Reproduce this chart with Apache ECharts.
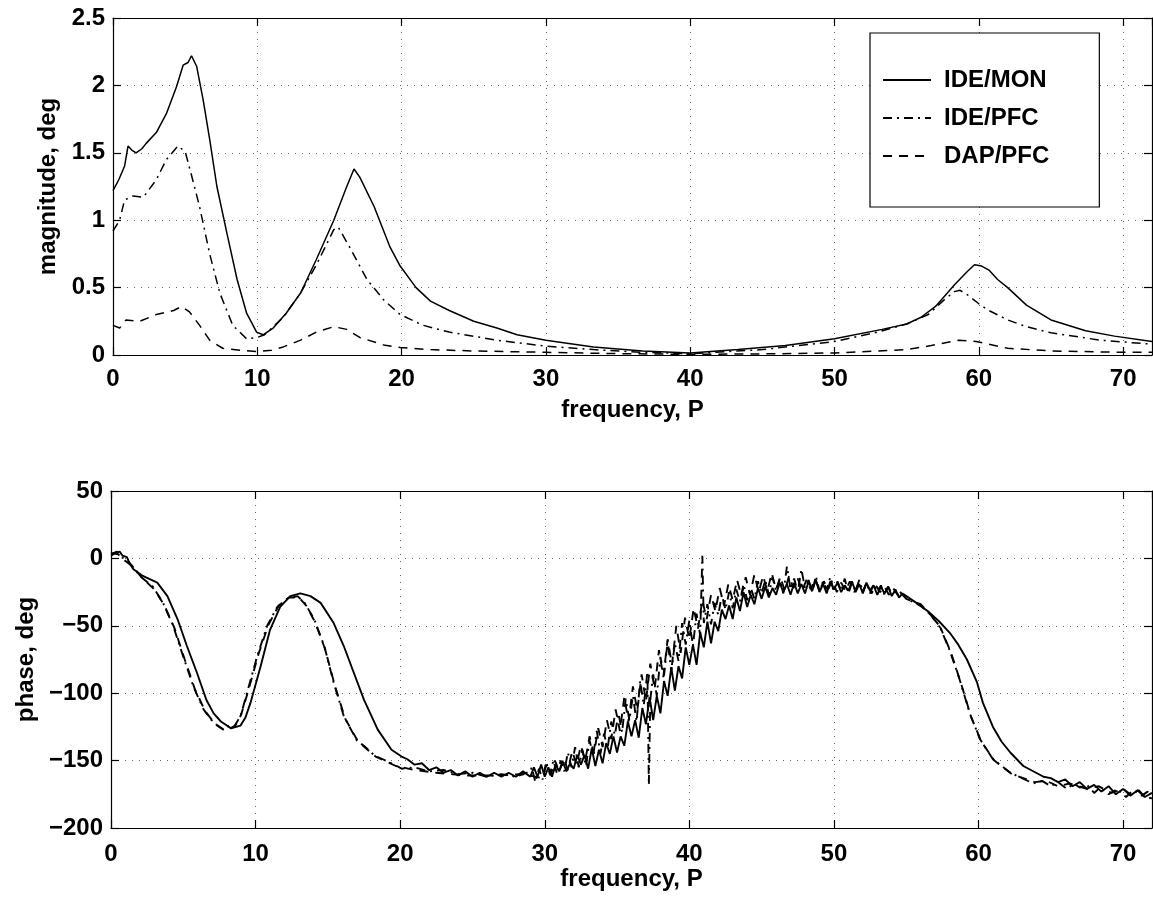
<!DOCTYPE html>
<html>
<head>
<meta charset="utf-8">
<script src="https://cdn.jsdelivr.net/npm/echarts@6/dist/echarts.min.js"></script>
<style>
html,body{margin:0;padding:0;background:#fff;}
#chart{width:1153px;height:903px;}
</style>
</head>
<body>
<div id="chart"></div>
<script>
// ---- data ----
const seriesNames = ['IDE/MON', 'IDE/PFC', 'DAP/PFC'];
const xTicks = [0, 10, 20, 30, 40, 50, 60, 70];
const magTicks = [0, 0.5, 1, 1.5, 2, 2.5];
const phaseTicks = [-200, -150, -100, -50, 0, 50];

// magnitude, deg  [frequency P, value]
const magIdeMon = [[0,1.22],[0.4,1.3],[0.8,1.4],[1.04,1.55],[1.3,1.52],[1.6,1.5],[2.0,1.53],[2.3,1.57],[3.0,1.65],[3.7,1.79],[4.4,1.99],[4.86,2.15],[5.2,2.17],[5.44,2.22],[5.8,2.14],[6.25,1.89],[6.7,1.60],[7.2,1.25],[7.9,0.90],[8.6,0.56],[9.26,0.31],[9.95,0.17],[10.4,0.15],[11.1,0.20],[12.0,0.31],[13.0,0.46],[14.1,0.71],[15.3,1.0],[16.2,1.25],[16.7,1.38],[17.1,1.32],[18.1,1.10],[19.2,0.80],[19.9,0.66],[21,0.5],[22,0.4],[23.3,0.33],[25,0.25],[26.6,0.2],[28,0.15],[30,0.11],[33.3,0.06],[36.7,0.03],[40,0.015],[43.3,0.04],[46.6,0.07],[50,0.12],[53.3,0.19],[55,0.23],[56,0.28],[57,0.36],[58.3,0.52],[59.2,0.62],[59.7,0.67],[60.2,0.66],[60.7,0.63],[61.3,0.56],[62,0.5],[63.3,0.37],[65,0.26],[67.4,0.18],[69.4,0.14],[72,0.1]];
const magIdePfc = [[0,0.92],[0.46,1.0],[0.8,1.15],[1.4,1.18],[2.1,1.17],[3.0,1.3],[3.7,1.45],[4.5,1.55],[5.0,1.51],[5.4,1.35],[6.0,1.10],[6.7,0.75],[7.4,0.46],[8.3,0.22],[9.26,0.12],[10,0.13],[10.5,0.15],[11.8,0.28],[13,0.46],[14.1,0.67],[15.3,0.93],[15.6,0.95],[16.4,0.80],[17.6,0.56],[18.75,0.41],[19.9,0.30],[21.5,0.22],[23.3,0.17],[26.6,0.11],[30,0.065],[33.3,0.04],[36.7,0.02],[40,0.01],[45,0.04],[50,0.1],[53,0.17],[55,0.23],[56.5,0.3],[57.5,0.4],[58.3,0.47],[58.7,0.48],[59.3,0.44],[60,0.38],[60.7,0.33],[62,0.26],[63.3,0.21],[65,0.165],[68.4,0.11],[72,0.08]];
const magDapPfc = [[0,0.22],[0.46,0.2],[0.9,0.26],[1.85,0.25],[3,0.3],[4.2,0.33],[4.75,0.36],[5.3,0.32],[6,0.22],[6.7,0.11],[7.6,0.05],[8.8,0.035],[10,0.025],[11,0.035],[11.8,0.06],[13,0.11],[14.1,0.17],[15.3,0.21],[16.2,0.19],[17.1,0.13],[18.75,0.075],[19.9,0.055],[22,0.04],[25,0.03],[30,0.02],[35,0.01],[40,0.005],[45,0.008],[50,0.015],[55,0.04],[56.7,0.07],[58.6,0.11],[59.8,0.1],[62,0.05],[65,0.03],[70,0.02],[72,0.02]];

// phase, deg  [frequency P, value]
const phaseIdeMon = [[0,2],[0.3,4],[0.6,5],[0.8,2],[1.1,1],[1.3,-4],[1.55,-8],[2.2,-13],[3.2,-18],[3.9,-28],[4.6,-45],[5.25,-65],[5.95,-85],[6.6,-105],[7.1,-115],[7.6,-121],[8.3,-126],[8.96,-124],[9.3,-118],[9.65,-107],[10.35,-80],[11,-53],[11.7,-36],[12.4,-28],[13.1,-26],[13.8,-28],[14.5,-33],[15.4,-48],[16.1,-65],[16.8,-85],[17.5,-105],[18.45,-127],[19.4,-142],[20.1,-147],
[20.5,-149],[21,-153],[21.5,-152],[22,-157],[22.5,-155],[23,-159],[23.5,-157],[24,-161],[24.5,-158],[25,-162],[25.5,-159],[26,-162],[26.5,-159],[27,-162],[27.5,-159],[28,-162],[28.5,-158],[29,-162],
[29.25,-155],[29.5,-162],[29.75,-153],[30,-162],[30.25,-155],[30.5,-162],[30.75,-153],[31,-158],[31.25,-151],[31.5,-158],[31.75,-152],[32,-156],[32.25,-146],[32.5,-153],[32.75,-146],[33,-156],[33.25,-141],[33.5,-154],[33.75,-142],[34,-152],[34.25,-137],[34.5,-145],[34.75,-132],[35,-144],[35.25,-132],[35.5,-139],[35.75,-121],[36,-132],[36.25,-120],[36.5,-133],[36.75,-111],[37,-123],[37.25,-103],[37.5,-120],[37.75,-102],[38,-115],[38.25,-91],[38.5,-102],[38.75,-81],[39,-98],[39.25,-80],[39.5,-89],[39.75,-66],[40,-79],[40.25,-64],[40.5,-79],[40.75,-55],[41,-66],[41.25,-47],[41.5,-63],[41.75,-47],[42,-54],[42.25,-38],[42.5,-45],[42.75,-35],[43,-45],[43.25,-29],[43.5,-39],[43.75,-25],[44,-36],[44.25,-27],[44.5,-34],[44.75,-22],[45,-30],[45.25,-21],[45.5,-29],[45.75,-22],[46,-27],[46.25,-18],[46.5,-25],[46.75,-19],[47,-27],[47.25,-18],[47.5,-26],[47.75,-19],[48,-26],[48.25,-17],[48.5,-24],[48.75,-16],[49,-25],[49.25,-19],[49.5,-26],[49.75,-17],[50,-23],[50.25,-18],[50.5,-25],[50.75,-20],[51,-24],[51.25,-17],[51.5,-25],[51.75,-19],[52,-26],[52.25,-18],[52.5,-24],[52.75,-20],[53,-27],[53.25,-21],[53.5,-26],[53.75,-21],[54,-28],[54.25,-23],[54.5,-29],[54.75,-26],
[55.7,-33],[56.6,-40],[57.3,-47],[58,-55],[58.6,-64],[59.2,-75],[59.9,-92],[60.3,-107],[61,-125],[61.6,-136],[62.2,-144],[63.1,-154],[64.5,-162],[65,-163],[65.5,-166],[66,-164],[66.5,-169],[67,-166],[67.5,-171],[68,-168],[68.5,-173],[69,-169],[69.5,-175],[70,-171],[70.5,-176],[71,-172],[71.5,-177],[72,-174]];
const phaseIdePfc = [[0,3],[0.4,5],[0.7,1],[1.1,-1],[1.5,-6],[2,-13],[2.9,-21],[3.6,-33],[4.3,-50],[5,-73],[5.7,-95],[6.4,-112],[7.1,-122],[7.8,-127],[8.2,-124],[8.5,-125],[8.96,-117],[9.4,-100],[10.1,-73],[10.8,-50],[11.5,-36],[12.2,-30],[12.9,-28],[13.4,-33],[14.05,-45],[14.75,-65],[15.4,-92],[16.1,-117],[17,-135],[17.6,-140],[18.2,-146],[18.8,-149],[19.6,-153],[20.1,-156],[21,-155],[22,-158],[23,-157],[24,-160],[25,-159],[26,-162],[27,-160],[28,-162],[29,-158],
[29.1,-155],[29.35,-166],[29.6,-156],[29.85,-164],[30.1,-151],[30.35,-160],[30.6,-150],[30.85,-160],[31.1,-150],[31.35,-158],[31.6,-144],[31.85,-155],[32.1,-140],[32.35,-155],[32.6,-142],[32.85,-154],[33.1,-135],[33.35,-146],[33.6,-128],[33.85,-145],[34.1,-130],[34.35,-141],[34.6,-121],[34.85,-131],[35.1,-115],[35.35,-129],[35.6,-104],[35.85,-120],[36.1,-102],[36.35,-121],[36.6,-91],[36.85,-109],[37.1,-84],[37.2,-168],[37.3,-105],[37.5,-86],[37.75,-102],[38,-73],[38.25,-87],[38.5,-61],[38.75,-84],[39,-63],[39.25,-76],[39.5,-48],[39.75,-64],[40,-46],[40.25,-65],[40.5,-41],[40.75,-57],[40.9,2],[41,-48],[41.25,-34],[41.5,-49],[41.75,-33],[42,-42],[42.25,-27],[42.5,-38],[42.75,-25],[43,-37],[43.25,-23],[43.5,-32],[43.75,-19],[44,-31],[44.25,-22],[44.5,-30],[44.75,-17],[45,-26],[45.25,-16],[45.5,-27],[45.75,-14],[46,-24],[46.25,-15],[46.5,-26],[46.75,-6],[47,-23],[47.25,-15],[47.5,-25],[47.75,-8],[48,-22],[48.25,-16],[48.5,-25],[48.75,-13],[49,-24],[49.25,-17],[49.5,-23],[49.75,-14],[50,-25],[50.25,-17],[50.5,-24],[50.75,-15],[51,-26],[51.25,-18],[51.5,-24],[51.75,-16],[52,-25],[52.25,-18],[52.5,-26],[52.75,-19],[53,-25],[53.25,-20],[53.5,-27],[53.75,-21],[54,-26],[54.5,-24],[55,-30],
[56,-35],[56.6,-41],[57.3,-50],[58,-68],[58.7,-90],[59.4,-115],[60.1,-134],[61,-149],[62.2,-159],[63,-163],[63.8,-167],[64.4,-165],[65,-169],[65.5,-166],[66.1,-171],[66.6,-167],[67,-170],[67.5,-168],[68,-174],[68.4,-170],[69,-175],[69.6,-171],[70.2,-177],[70.7,-172],[71.3,-176],[71.7,-173],[72,-182]];
const phaseDapPfc = [[0,4],[0.5,3],[1,-2],[1.6,-7],[2.1,-14],[3,-23],[3.7,-35],[4.4,-52],[5.1,-75],[5.8,-97],[6.5,-113],[7.2,-123],[7.9,-128],[8.6,-124],[9,-116],[9.5,-98],[10.2,-71],[10.9,-49],[11.6,-35],[12.3,-29],[13,-29],[13.5,-35],[14.1,-47],[14.8,-67],[15.5,-95],[16.2,-119],[17.1,-136],[18.3,-147],[19.7,-154],[21,-157],[22.5,-159],[24.5,-161],[26.5,-161],[28.5,-160],
[29.8,-163],[30.1,-154],[30.4,-161],[30.7,-150],[31,-158],[31.3,-148],[31.6,-157],[31.9,-143],[32.2,-153],[32.5,-139],[32.8,-150],[33.1,-132],[33.4,-145],[33.7,-126],[34,-140],[34.3,-120],[34.6,-134],[34.9,-112],[35.2,-128],[35.5,-103],[35.8,-121],[36.1,-95],[36.4,-113],[36.7,-86],[37,-106],[37.3,-78],[37.6,-97],[37.9,-68],[38.2,-88],[38.5,-60],[38.8,-79],[39.1,-50],[39.4,-70],[39.7,-44],[40,-60],[40.3,-37],[40.6,-52],[40.9,-31],[41.2,-45],[41.5,-27],[41.8,-39],[42.1,-22],[42.4,-35],[42.7,-19],[43,-31],[43.3,-16],[43.6,-28],[43.9,-14],[44.2,-27],[44.5,-12],[44.8,-25],[45.1,-13],[45.4,-24],[45.7,-11],[46,-23],[46.3,-14],[46.6,-24],[46.9,-13],[47.2,-22],[47.5,-15],[47.8,-24],[48.1,-16],[48.4,-23],[48.7,-15],[49,-24],[49.3,-17],[49.6,-23],[49.9,-16],[50.2,-25],[50.5,-18],[50.8,-24],[51.1,-17],[51.4,-25],[51.7,-19],[52,-24],[52.3,-18],[52.6,-26],[52.9,-20],[53.2,-25],[53.5,-21],[53.8,-27],[54.1,-22],[54.4,-27],[54.7,-25],[55,-30],
[56,-34],[56.7,-42],[57.4,-52],[58.1,-70],[58.8,-93],[59.5,-118],[60.2,-136],[61.1,-150],[62.3,-160],[63.9,-166],[64.7,-165],[65.5,-169],[66.3,-167],[67.5,-171],[68.3,-169],[69.2,-174],[70,-171],[70.5,-175],[71.1,-172],[71.5,-177],[72,-178]];

// ---- chart ----
const FONT = '"Liberation Sans", Arial, Helvetica, sans-serif';
const FS = 24;
const FW = 'bold';
const minus = v => String(v).replace('-', '\u2212');

const chart = echarts.init(document.getElementById('chart'), null, {renderer: 'canvas'});

function xAx(gridIndex, pos, show, margin, nameGap) {
  return {
    type: 'value', gridIndex: gridIndex, position: pos,
    min: 0, max: 72, interval: 10,
    name: show ? 'frequency, P' : '', nameLocation: 'middle', nameGap: nameGap,
    nameTextStyle: {fontFamily: FONT, fontSize: FS, fontWeight: FW, color: '#000'},
    axisLine: {show: true, onZero: false, lineStyle: {color: '#000', width: 1.2}},
    axisTick: {show: true, inside: true, length: 8, lineStyle: {color: '#000', width: 1.2}},
    axisLabel: {show: show, showMaxLabel: false, margin: margin, fontFamily: FONT, fontSize: FS, fontWeight: FW, color: '#000',
      formatter: v => xTicks.indexOf(v) >= 0 ? String(v) : ''},
    splitLine: {show: show, lineStyle: {color: '#666', width: 1, type: [1, 6]}}
  };
}
function yAx(gridIndex, pos, show, min, max, interval, name, nameGap) {
  return {
    type: 'value', gridIndex: gridIndex, position: pos,
    min: min, max: max, interval: interval,
    name: show ? name : '', nameLocation: 'middle', nameGap: nameGap, nameRotate: 90,
    nameTextStyle: {fontFamily: FONT, fontSize: FS, fontWeight: FW, color: '#000'},
    axisLine: {show: true, onZero: false, lineStyle: {color: '#000', width: 1.2}},
    axisTick: {show: true, inside: true, length: 8, lineStyle: {color: '#000', width: 1.2}},
    axisLabel: {show: show, margin: 8, fontFamily: FONT, fontSize: FS, fontWeight: FW, color: '#000', formatter: minus},
    splitLine: {show: show, lineStyle: {color: '#666', width: 1, type: [1, 6]}}
  };
}

const styles = [
  {type: 'solid', width: 1.5},
  {type: [9, 5, 2, 5], width: 1.5},
  {type: [9, 7], width: 1.5}
];
function line(name, data, xi, yi, st, w) {
  return {
    name: name, type: 'line', xAxisIndex: xi, yAxisIndex: yi, data: data,
    showSymbol: false, symbol: 'none', smooth: false, animation: false,
    lineStyle: {color: '#000', width: w || st.width, type: st.type},
    itemStyle: {color: '#000'}
  };
}

const option = {
  backgroundColor: '#fff',
  animation: false,
  grid: [
    {left: 113, top: 18, right: 1, height: 337},
    {left: 111, top: 491, right: 1, height: 337}
  ],
  xAxis: [
    xAx(0, 'bottom', true, 12, 43),
    xAx(0, 'top', false, 0, 0),
    xAx(1, 'bottom', true, 14, 38),
    xAx(1, 'top', false, 0, 0)
  ],
  yAxis: [
    yAx(0, 'left', true, 0, 2.5, 0.5, 'magnitude, deg', 48),
    yAx(0, 'right', false, 0, 2.5, 0.5, '', 0),
    yAx(1, 'left', true, -200, 50, 50, 'phase, deg', 72),
    yAx(1, 'right', false, -200, 50, 50, '', 0)
  ],
  legend: {
    data: seriesNames, orient: 'vertical', left: 870, top: 33,
    padding: [35, 50, 39, 12], itemGap: 14, itemWidth: 48, itemHeight: 14,
    backgroundColor: '#fff', borderColor: '#000', borderWidth: 1.2, borderRadius: 0,
    itemStyle: {color: 'rgba(0,0,0,0)', borderWidth: 0, opacity: 0},
    textStyle: {fontFamily: FONT, fontSize: FS, fontWeight: FW, color: '#000', lineHeight: 24, padding: [0, 0, 0, 8]},
    selectedMode: false
  },
  series: [
    line(seriesNames[0], magIdeMon, 0, 0, styles[0]),
    line(seriesNames[1], magIdePfc, 0, 0, styles[1]),
    line(seriesNames[2], magDapPfc, 0, 0, styles[2]),
    line(seriesNames[0], phaseIdeMon, 2, 2, styles[0], 1.9),
    line(seriesNames[1], phaseIdePfc, 2, 2, styles[1], 1.9),
    line(seriesNames[2], phaseDapPfc, 2, 2, styles[2], 1.9)
  ]
};
chart.setOption(option);
</script>
</body>
</html>
